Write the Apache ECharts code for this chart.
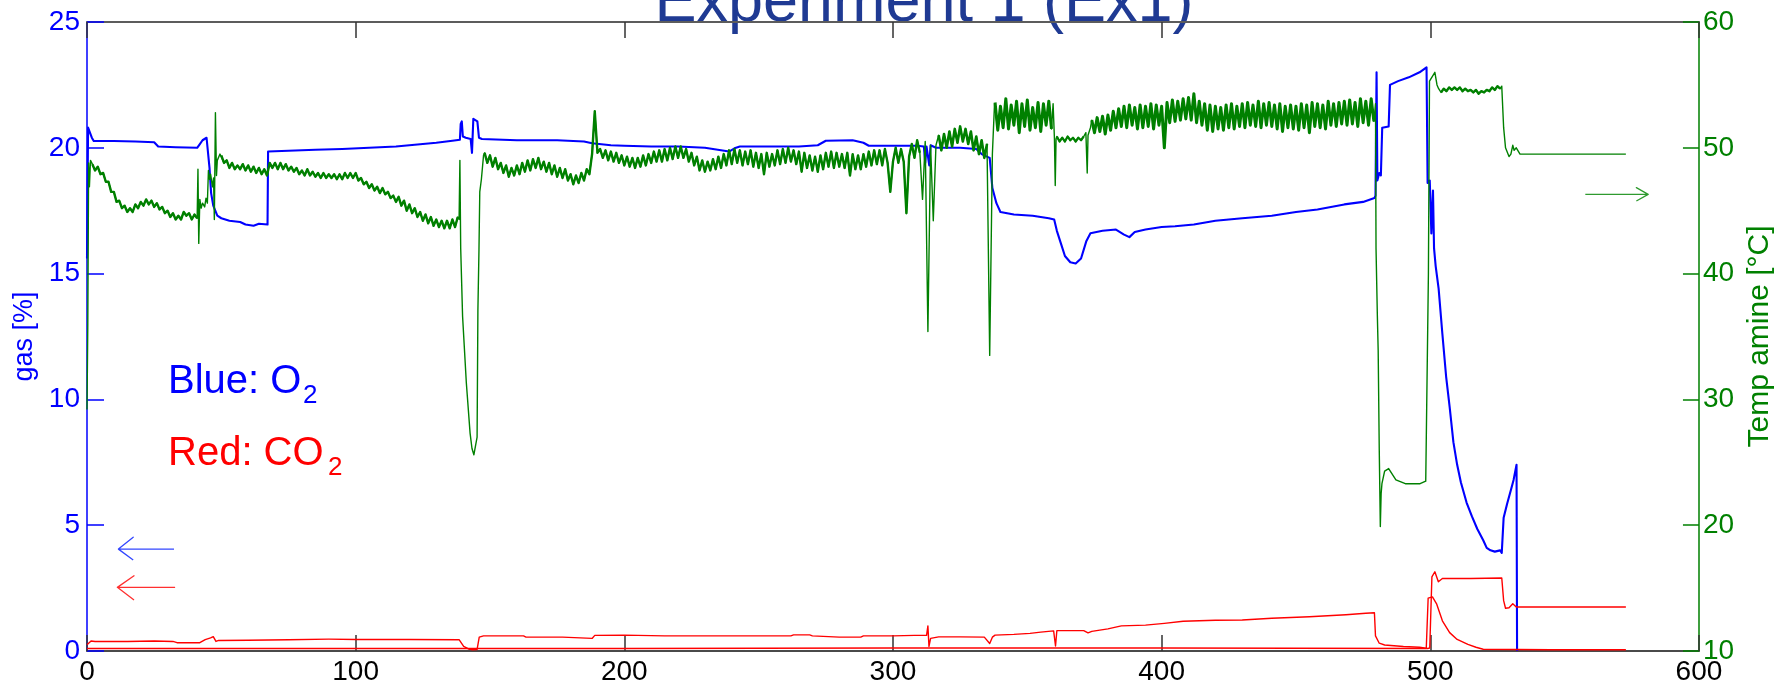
<!DOCTYPE html>
<html>
<head>
<meta charset="utf-8">
<title>Experiment 1 (Ex1)</title>
<script src="https://cdn.jsdelivr.net/npm/echarts@6.0.0/dist/echarts.min.js"></script>
<style>
    html, body { margin: 0; padding: 0; background: #ffffff; }
    #chart { width: 1783px; height: 689px; }
</style>
</head>
<body>
<div id="chart"></div>
<script>
// axes
var xTicks = [0, 100, 200, 300, 400, 500, 600];
var gasTicks = [0, 5, 10, 15, 20, 25];
var tempTicks = [10, 20, 30, 40, 50, 60];

// O2 [%], left axis, [time, value]
var o2Data = [[0,15.6],[0.4,20.8],[1,20.75],[1.8,20.4],[2.5,20.27],[10,20.27],[18,20.25],[25,20.22],[26.5,20.05],[33,20.02],[41,20.0],[42,20.15],[43,20.3],[44.5,20.4],[45.2,20.35],[45.6,19.2],[46.2,18.2],[47,17.7],[48.5,17.3],[50,17.2],[53,17.1],[57,17.05],[59,16.95],[62,16.9],[64,16.98],[67.2,16.95],[67.4,19.85],[75,19.88],[85,19.92],[95,19.95],[105,20.0],[115,20.05],[122,20.12],[130,20.2],[136,20.28],[138.8,20.32],[139.1,20.95],[139.5,21.05],[139.9,20.45],[141,20.4],[142.8,20.35],[143.3,19.8],[143.8,21.15],[144.5,21.2],[145.3,21.05],[145.9,20.4],[147,20.35],[160,20.3],[175,20.3],[185,20.25],[188,20.18],[195,20.1],[200,20.08],[210,20.05],[220,20.05],[230,20.0],[236,19.9],[239,19.85],[241,19.98],[243,20.05],[255,20.05],[265,20.05],[272,20.1],[275,20.28],[285,20.3],[289,20.2],[291,20.08],[300,20.08],[309,20.08],[311.5,20.05],[312,19.4],[312.5,20.05],[313.5,19.3],[314,20.1],[316,20.0],[325,20.0],[331,19.95],[333,19.75],[336,19.6],[337,18.4],[338.5,17.8],[340,17.45],[345,17.35],[352,17.3],[358,17.2],[360,17.15],[361,16.7],[362.5,16.2],[364,15.7],[366,15.45],[368,15.4],[370,15.6],[372,16.3],[373.5,16.6],[378,16.7],[383,16.75],[386,16.55],[388,16.45],[390,16.65],[394,16.75],[400,16.85],[405,16.88],[412,16.95],[420,17.1],[430,17.2],[441,17.3],[450,17.45],[458,17.55],[468,17.75],[475,17.85],[479.2,18.0],[479.6,18.1],[480.0,23.0],[480.3,18.7],[481,19.0],[481.6,18.9],[482.1,20.8],[484.5,20.85],[485,22.5],[488,22.65],[492,22.8],[496,23.0],[498.6,23.2],[499,18.6],[499.8,18.7],[500.4,16.6],[501,18.3],[501.4,16.0],[502,15.3],[503.1,14.4],[504.5,12.6],[505.9,10.9],[507.2,9.7],[508.6,8.3],[510,7.4],[511.4,6.7],[513.5,5.9],[515.5,5.35],[517.5,4.85],[519.7,4.4],[521,4.1],[522.4,4.0],[524,3.95],[526,4.0],[526.6,3.9],[527.3,5.3],[528.6,5.85],[530,6.4],[531,6.8],[532.1,7.4],[532.3,0]];

// CO2 [%], left axis, upper trace
var co2Data = [[0,0.25],[0.5,0.3],[1.5,0.4],[3,0.38],[15,0.38],[25,0.4],[32,0.38],[33.5,0.33],[42,0.33],[44,0.45],[46,0.52],[47,0.57],[48,0.38],[49,0.42],[60,0.43],[75,0.45],[90,0.47],[100,0.46],[120,0.46],[138.5,0.45],[140.2,0.18],[142,0.08],[143.5,0.05],[145.2,0.06],[146,0.55],[147.6,0.6],[162.5,0.6],[163.4,0.55],[177,0.55],[177.5,0.5],[188,0.5],[189,0.62],[200,0.63],[215,0.6],[230,0.6],[245,0.6],[262,0.6],[263,0.64],[269,0.64],[270,0.6],[280,0.55],[288,0.55],[289,0.6],[300,0.6],[308,0.62],[312.5,0.62],[313,1.0],[313.4,0.18],[314,0.5],[317,0.56],[325,0.56],[334,0.55],[336,0.3],[337,0.55],[338,0.63],[345,0.66],[351,0.7],[355,0.75],[359.8,0.8],[360.5,0.2],[361,0.81],[371,0.81],[372.6,0.72],[374,0.78],[380,0.88],[385,1.0],[394,1.03],[401,1.1],[408,1.18],[420,1.22],[430,1.23],[441,1.3],[455,1.36],[468.6,1.44],[476,1.5],[479.2,1.52],[479.6,0.6],[481,0.31],[483,0.24],[490,0.18],[496,0.15],[499,0.1],[499.8,0.12],[500.6,2.95],[501.7,3.15],[503,2.75],[504.5,2.88],[515,2.88],[526.6,2.9],[527.3,2.0],[528,1.7],[529.3,1.72],[530.7,1.88],[532,1.75],[572.8,1.75]];

// CO2 [%], left axis, lower trace
var co2LowData = [[0,0.1],[100,0.1],[200,0.1],[300,0.12],[400,0.12],[498.5,0.1],[499.2,2.1],[500.8,2.15],[502.4,1.86],[504.5,1.2],[507.2,0.73],[510,0.46],[514,0.26],[517,0.15],[519.7,0.07],[545,0.05],[572.8,0.05]];

// Temp amine [°C], right axis: sparse pieces [time, value] and noisy runs sampled once per time unit
var tempStart = [[0,29.2],[0.3,36],[0.6,48.8],[0.9,46.9],[1.3,49.0]];
var tempRun1 = [48.7,48.2,48.5,47.9,48.0,47.3,47.3,46.5,46.5,45.7,45.8,45.2,45.4,44.9,45.2,44.9,45.5,45.2,45.7,45.4,45.9,45.5,45.8,45.3,45.6,45.1,45.3,44.8,45.0,44.5,44.8,44.3,44.6,44.3,44.9,44.6,44.8,44.3,44.7,44.4];
var tempSpikes45 = [[41.3,48.3],[41.6,42.4],[42,45.9],[42.5,45.2],[43,45.6],[43.8,45.3],[44.3,46.0],[44.8,45.6],[45.2,48.2],[45.6,47.5],[46,47.9],[46.7,46.9],[47.1,47.6],[47.4,44.3],[47.8,52.8],[48.2,47.8],[48.5,49.0],[49.5,49.5]];
var tempRun2 = [49.4,48.8,49.0,48.4,48.8,48.3,48.6,48.3,48.7,48.2,48.6,48.1,48.5,48.0,48.4,47.9,48.3,47.8,48.8,48.4,48.8,48.3,48.8,48.3,48.7,48.2,48.5,48.1,48.4,47.9,48.2,47.8,48.3,47.8,48.1,47.7,48.0,47.6,48.0,47.6,47.9,47.6,47.9,47.5,47.9,47.5,48.0,47.6,48.0,47.6,48.0,47.4,47.6,47.1,47.3,46.8,47.1,46.6,46.9,46.4,46.8,46.3,46.5,46.0,46.2,45.7,46.1,45.4,45.8,45.0,45.5,44.8,45.2,44.5,44.9,44.2,44.7,44.0,44.5,43.8,44.3,43.7,44.2,43.6,44.2,43.6,44.3,43.7,44.5];
var tempDip140 = [[138.5,44.3],[138.8,49.0],[139.1,42.0],[139.8,36.6],[141.2,31.3],[142.6,27.3],[143.3,26.1],[144,25.6],[144.7,25.7],[145.2,27.0],[145.5,37.1],[145.9,41.9],[146.2,46.5],[146.8,47.5],[147.6,49.4]];
var tempRun3 = [49.6,48.8,49.4,48.5,49.2,48.3,48.8,48.0,48.6,47.7,48.4,47.8,48.6,47.9,48.8,48.1,49.0,48.2,49.1,48.4,49.2,48.3,48.9,48.1,48.8,47.9,48.6,47.7,48.4,47.6,48.3,47.4,47.9,47.1,47.8,47.2,48.0,47.4,48.3,47.9,49.5,52.9,49.6,49.9,49.2,49.8,49.0,49.7,48.9,49.6,48.8,49.4,48.6,49.3,48.5,49.2,48.4,49.2,48.5,49.4,48.6,49.5,48.8,49.7,48.9,49.8,48.9,49.9,49.0,50.0,49.1,50.1,49.2,50.1,49.2,49.9,48.9,49.6,48.6,49.3,48.2,49.0,48.1,48.9,48.2,49.1,48.3,49.3,48.4,49.5,48.6,49.8,48.7,49.9,48.8,49.8,48.6,49.7,48.7,49.8,48.5,49.6,48.4,49.5,47.9,49.6,48.5,49.5,48.6,49.8,48.7,49.9,48.8,50.0,48.9,49.8,48.7,49.7,48.1,49.6,48.4,49.4,48.2,49.3,48.1,49.4,48.3,49.6,48.5,49.7,48.4,49.6,48.5,49.5,48.4,49.6,47.8,49.5,48.3,49.4,48.3,49.5,48.5,49.7,48.6,49.8,48.7,49.8,48.6,49.9,48.8,46.5,48.9,50.0,48.8,49.9,48.9,44.8,49.3,50.3,49.2,50.6,49.6];
var tempSpikes313 = [[311,45.9],[312,50.5],[313,35.4],[314,50.2],[315,44.2],[316,50.2]];
var tempRun4 = [51.0,49.8,51.1,50.0,51.3,50.1,51.5,50.4,51.7,50.5,51.5,50.3,51.3,49.8,50.9,49.5,50.6,49.2,50.3];
var tempDrop336 = [[336,33.5],[337,49.5],[337.8,53.5]];
var tempRun5 = [53.6,51.4,53.3,51.6,53.9,51.5,53.4,51.8,53.7,51.2,53.5,51.7,53.8,51.4,53.2,51.6,53.6,51.3,53.5,51.8,53.7,51.5];
var tempStep360 = [[359.6,53.5],[360.1,50.7],[360.4,47.0],[360.7,50.7]];
var tempRun6 = [50.9,50.5,50.8,50.5,50.9,50.6,50.8,50.5,50.8,50.6,50.9];
var tempStep372 = [[371.8,51.2],[372.3,48.0],[372.6,51.0],[373.5,51.6]];
var tempRun7 = [52.2,51.2,52.4,51.3,52.5,51.1,52.6,51.4,52.9,51.6,53.1,51.7,53.3,51.6,53.4,51.8,53.2,51.5,53.4,51.6,53.3,51.7,53.5,51.5,53.4,51.8,53.3,50.0,53.6,52.0,53.8,52.1,53.7,52.2,53.9,52.3,54.0,52.2,54.3,52.0,53.7,51.8,53.5,51.4,53.4,51.3,53.3,51.5,53.2,51.4,53.4,51.6,53.5,51.5,53.3,51.7,53.5,51.6,53.6,51.8,53.4,51.7,53.7,51.6,53.5,51.8,53.6,51.7,53.4,51.5,53.5,51.3,53.3,51.6,53.4,51.5,53.3,51.4,53.5,51.6,53.4,51.2,53.6,51.7,53.5,51.6,53.4,51.5,53.7,51.8,53.5,51.7,53.6,51.9,53.7,51.8,53.8,51.9,53.6,51.7,53.9,52.0,53.7,51.8,53.9,52.1];
var tempDip490 = [[479.6,53.5],[479.8,42],[480,41.9],[480.3,36.6],[480.6,33.9],[481,26.0],[481.4,19.9],[481.7,22.5],[482,23.3],[483,24.3],[484.5,24.5],[485.2,24.4],[487.2,23.6],[490.7,23.3],[496.2,23.3],[498.3,23.5],[499,23.6],[499.3,40],[499.7,55.3],[500.3,55.4],[501.7,56.0],[502.5,55.0],[503.1,54.7]];
var tempRun8 = [54.4,54.7,54.5,54.8,54.6,54.8,54.6,54.8,54.5,54.7,54.5,54.6,54.4,54.6,54.3,54.5,54.4,54.6,54.5,54.8,54.6,54.9,54.7];
var tempEnd = [[526.6,54.9],[527.3,51.6],[528,50.0],[529.3,49.3],[530,49.5],[530.7,50.2],[531.2,49.8],[532,50.0],[533.4,49.5],[572.8,49.5]];

// annotation arrows: tail, tip, barb, tip, barb
var arrowO2 = [[32.4,4.05],[11.7,4.05],[17.2,4.52],[11.7,4.05],[17.2,3.62]];
var arrowCO2 = [[32.8,2.53],[11.3,2.53],[17.5,2.99],[11.3,2.53],[17.5,2.03]];
var arrowTemp = [[557.7,46.3],[581.1,46.3],[576.7,46.83],[581.1,46.3],[576.7,45.77]];

function run(x0, values) {
    return values.map(function (v, i) { return [x0 + i, v]; });
}

// noisy runs, drawn again with a heavier pen so they read as a band
var tempRuns = [
    run(2, tempRun1), run(50, tempRun2), run(148, tempRun3), run(317, tempRun4),
    run(338, tempRun5), run(361, tempRun6), run(374, tempRun7), run(504, tempRun8)
];
var bandWidths = [2.4, 2.4, 2.4, 2.6, 3.0, 2.2, 3.0, 2.4];

var tempData = [].concat(
    tempStart, tempRuns[0], tempSpikes45, tempRuns[1], tempDip140,
    tempRuns[2], tempSpikes313, tempRuns[3], tempDrop336, tempRuns[4], tempStep360,
    tempRuns[5], tempStep372, tempRuns[6], tempDip490, tempRuns[7], tempEnd
);

var FONT = '"Liberation Sans", Arial, sans-serif';
var BLUE = '#0000ff', RED = '#ff0000', GREEN = '#008000';

function lineSeries(name, data, color, width, yIndex) {
    return {
        name: name,
        type: 'line',
        data: data,
        xAxisIndex: 0,
        yAxisIndex: yIndex,
        symbol: 'none',
        showSymbol: false,
        sampling: null,
        animation: false,
        lineStyle: {color: color, width: width, join: 'round'},
        silent: true
    };
}

var series = [
    lineSeries('O2', o2Data, BLUE, 2.1, 0),
    lineSeries('CO2', co2Data, RED, 1.4, 0),
    lineSeries('CO2 low', co2LowData, RED, 1.4, 0),
    lineSeries('arrow O2', arrowO2, '#3347ff', 1.3, 0),
    lineSeries('arrow CO2', arrowCO2, '#ff3030', 1.3, 0),
    lineSeries('Temp amine', tempData, GREEN, 1.4, 1)
];
tempRuns.forEach(function (r, i) {
    series.push(lineSeries('Temp amine band ' + i, r, GREEN, bandWidths[i], 1));
});
series.push(lineSeries('arrow temp', arrowTemp, '#2f9a2f', 1.3, 1));

var myChart = echarts.init(document.getElementById('chart'), null, {renderer: 'canvas'});

var option = {
    backgroundColor: '#ffffff',
    animation: false,
    textStyle: {fontFamily: FONT},
    grid: {left: 87, right: 80, top: 22, bottom: 38, containLabel: false},
    xAxis: [{
        type: 'value', position: 'bottom',
        min: xTicks[0], max: xTicks[xTicks.length - 1], interval: 100,
        axisLine: {onZero: false, lineStyle: {color: '#4a4a4a', width: 2}},
        axisTick: {inside: true, length: 16, lineStyle: {color: '#333333', width: 1.5}},
        axisLabel: {color: '#000000', fontSize: 28, fontFamily: FONT, margin: 7},
        splitLine: {show: false}
    }, {
        type: 'value', position: 'top',
        min: xTicks[0], max: xTicks[xTicks.length - 1], interval: 100,
        axisLine: {onZero: false, lineStyle: {color: '#5c5c5c', width: 2}},
        axisTick: {inside: true, length: 16, lineStyle: {color: '#333333', width: 1.5}},
        axisLabel: {show: false},
        splitLine: {show: false}
    }],
    yAxis: [{
        type: 'value', position: 'left',
        min: gasTicks[0], max: gasTicks[gasTicks.length - 1], interval: 5,
        name: 'gas [%]', nameLocation: 'middle', nameGap: 30,
        nameTextStyle: {color: BLUE, fontSize: 27, fontFamily: FONT},
        axisLine: {show: true, onZero: false, lineStyle: {color: BLUE, width: 1.5}},
        axisTick: {show: true, inside: true, length: 17, lineStyle: {color: BLUE, width: 1.5}},
        axisLabel: {color: BLUE, fontSize: 28, fontFamily: FONT, margin: 7},
        splitLine: {show: false}
    }, {
        type: 'value', position: 'right',
        min: tempTicks[0], max: tempTicks[tempTicks.length - 1], interval: 10,
        name: 'Temp amine [°C]', nameLocation: 'middle', nameGap: 45,
        nameTextStyle: {color: GREEN, fontSize: 30, fontFamily: FONT},
        axisLine: {show: true, onZero: false, lineStyle: {color: '#3f9f3f', width: 2}},
        axisTick: {show: true, inside: true, length: 16, lineStyle: {color: GREEN, width: 1.5}},
        axisLabel: {color: GREEN, fontSize: 28, fontFamily: FONT, margin: 4},
        splitLine: {show: false}
    }],
    graphic: [
        {type: 'text', x: 924, y: 4, silent: true,
            style: {text: 'Experiment 1 (Ex1)', fill: '#1f3a93', font: '63px ' + FONT, textAlign: 'center', textVerticalAlign: 'middle'}},
        {type: 'text', x: 168, y: 382, silent: true,
            style: {text: 'Blue: O', fill: BLUE, font: '40px ' + FONT, textAlign: 'left', textVerticalAlign: 'middle'}},
        {type: 'text', x: 303, y: 396, silent: true,
            style: {text: '2', fill: BLUE, font: '26px ' + FONT, textAlign: 'left', textVerticalAlign: 'middle'}},
        {type: 'text', x: 168, y: 454, silent: true,
            style: {text: 'Red: CO', fill: RED, font: '40px ' + FONT, textAlign: 'left', textVerticalAlign: 'middle'}},
        {type: 'text', x: 328, y: 468, silent: true,
            style: {text: '2', fill: RED, font: '26px ' + FONT, textAlign: 'left', textVerticalAlign: 'middle'}}
    ],
    series: series
};

if (option && typeof option === "object") {
    myChart.setOption(option, true);
}
</script>
</body>
</html>
